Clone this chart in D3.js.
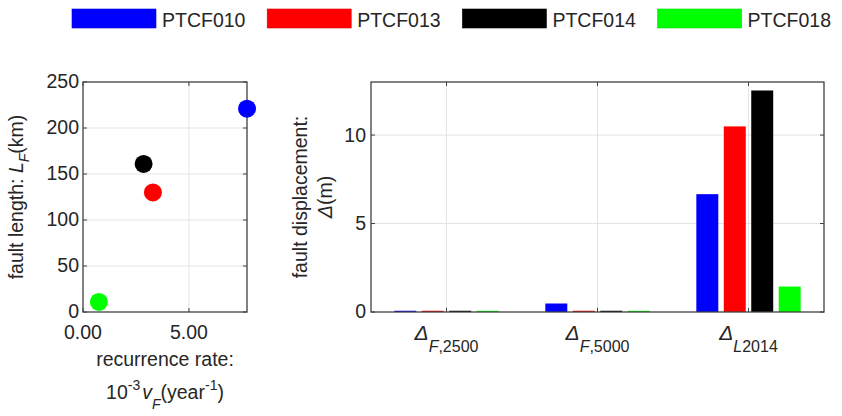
<!DOCTYPE html>
<html>
<head>
<meta charset="utf-8">
<script src="https://cdn.jsdelivr.net/npm/d3@7/dist/d3.min.js"></script>
<style>
  html, body { margin: 0; padding: 0; background: #fff; }
  svg { display: block; font-family: "Liberation Sans", Arial, Helvetica, sans-serif; }
</style>
</head>
<body>
<svg id="chart" width="842" height="416"></svg>
<script>
// Fault series
const seriesNames = ["PTCF010", "PTCF013", "PTCF014", "PTCF018"];
const seriesColors = ["#0000ff", "#ff0000", "#000000", "#00ff00"];

// Left panel: recurrence rate (10^-3 /year) vs fault length (km)
const recurrenceRate = [7.74, 3.30, 2.86, 0.75];
const faultLength = [221, 130, 161, 11];
const lengthTicks = [0, 50, 100, 150, 200, 250];
const rateTicks = [0, 5];

// Right panel: fault displacement (m) per scenario
const scenarioSubs = ["F,2500", "F,5000", "L2014"];
const dispPTCF010 = [0.07, 0.48, 6.66];
const dispPTCF013 = [0.07, 0.07, 10.49];
const dispPTCF014 = [0.07, 0.07, 12.52];
const dispPTCF018 = [0.07, 0.07, 1.44];
const dispTicks = [0, 5, 10];

const displacement = [dispPTCF010, dispPTCF013, dispPTCF014, dispPTCF018];

const TXT = "#262626";
const AXC = "#404040";
const GRID = "#e3e3e3";
const FS = 19.5;
const svg = d3.select("#chart");

// ---------- Legend ----------
const legend = svg.append("g");
seriesNames.forEach((name, i) => {
  const x0 = 72 + i * 195.2;
  legend.append("rect").attr("x", x0).attr("y", 9).attr("width", 84).attr("height", 19)
    .attr("fill", seriesColors[i]).attr("stroke", d3.color(seriesColors[i]).darker(0.4)).attr("stroke-width", 0.6);
  legend.append("text").attr("x", x0 + 90).attr("y", 26.7).attr("font-size", FS)
    .attr("fill", TXT).text(name);
});

// Helper: inward ticks on all four sides plus the box
function drawFrame(g, x, y, xt, yt) {
  const [xa, xb] = x.range();
  const [ya, yb] = y.range();
  const L = 4;
  const t = g.append("g").attr("stroke", AXC).attr("stroke-width", 1);
  xt.forEach(v => {
    const px = x(v);
    t.append("line").attr("x1", px).attr("x2", px).attr("y1", ya).attr("y2", ya - L);
    t.append("line").attr("x1", px).attr("x2", px).attr("y1", yb).attr("y2", yb + L);
  });
  yt.forEach(v => {
    const py = y(v);
    t.append("line").attr("x1", xa).attr("x2", xa + L).attr("y1", py).attr("y2", py);
    t.append("line").attr("x1", xb).attr("x2", xb - L).attr("y1", py).attr("y2", py);
  });
  g.append("rect").attr("x", xa).attr("y", yb).attr("width", xb - xa).attr("height", ya - yb)
    .attr("fill", "none").attr("stroke", AXC).attr("stroke-width", 1.3);
}

// ---------- Left panel: scatter ----------
const xL = d3.scaleLinear().domain([0, d3.max(recurrenceRate)]).range([83, 247]);
const yL = d3.scaleLinear().domain([0, d3.max(lengthTicks)]).range([312, 82]);
const gL = svg.append("g");

gL.append("g").selectAll("line.gx").data(rateTicks.filter(v => v > 0)).join("line")
  .attr("x1", d => xL(d)).attr("x2", d => xL(d)).attr("y1", yL.range()[0]).attr("y2", yL.range()[1])
  .attr("stroke", GRID).attr("stroke-width", 1);
gL.append("g").selectAll("line.gy").data(lengthTicks.filter(v => v > 0 && v < 250)).join("line")
  .attr("x1", xL.range()[0]).attr("x2", xL.range()[1]).attr("y1", d => yL(d)).attr("y2", d => yL(d))
  .attr("stroke", GRID).attr("stroke-width", 1);

drawFrame(gL, xL, yL, rateTicks, lengthTicks);

gL.append("g").selectAll("circle").data(recurrenceRate.map((r, i) => ({ r, L: faultLength[i], c: seriesColors[i] })))
  .join("circle")
  .attr("cx", d => xL(d.r)).attr("cy", d => yL(d.L)).attr("r", 9).attr("fill", d => d.c);

gL.append("g").selectAll("text").data(lengthTicks).join("text")
  .attr("x", 79).attr("y", d => yL(d)).attr("dy", "0.33em").attr("text-anchor", "end")
  .attr("font-size", FS).attr("fill", TXT).text(d => d);
gL.append("g").selectAll("text").data(rateTicks).join("text")
  .attr("x", d => xL(d)).attr("y", 339).attr("text-anchor", "middle")
  .attr("font-size", FS).attr("fill", TXT).text(d => d3.format(".2f")(d));

// y label: fault length: L_F(km)
const yl = gL.append("text").attr("transform", "translate(23,197) rotate(-90)")
  .attr("text-anchor", "middle").attr("font-size", FS).attr("fill", TXT);
yl.append("tspan").text("fault length: ");
yl.append("tspan").attr("font-style", "italic").text("L");
yl.append("tspan").attr("font-style", "italic").attr("font-size", 14).attr("dy", 6).text("F");
yl.append("tspan").attr("dy", -6).text("(km)");

// x label, two lines
gL.append("text").attr("x", 165).attr("y", 366).attr("text-anchor", "middle")
  .attr("font-size", FS).attr("fill", TXT).text("recurrence rate:");
const xl2 = gL.append("text").attr("x", 165).attr("y", 399).attr("text-anchor", "middle")
  .attr("font-size", FS).attr("fill", TXT);
xl2.append("tspan").text("10");
xl2.append("tspan").attr("font-size", 14).attr("dy", -9).text("-3");
xl2.append("tspan").attr("font-style", "italic").attr("dy", 9).attr("dx", 2).text("v");
xl2.append("tspan").attr("font-style", "italic").attr("font-size", 14).attr("dy", 10).text("F");
xl2.append("tspan").attr("dy", -10).text("(year");
xl2.append("tspan").attr("font-size", 14).attr("dy", -9).text("-1");
xl2.append("tspan").attr("dy", 9).text(")");

// ---------- Right panel: grouped bars ----------
const xR = d3.scaleLinear().domain([0.5, 3.5]).range([371, 824]);
const yR = d3.scaleLinear().domain([0, 13]).range([312, 82]);
const gR = svg.append("g");
const groupIdx = scenarioSubs.map((_, i) => i + 1);

gR.append("g").selectAll("line").data(groupIdx).join("line")
  .attr("x1", d => xR(d)).attr("x2", d => xR(d)).attr("y1", yR.range()[0]).attr("y2", yR.range()[1])
  .attr("stroke", GRID).attr("stroke-width", 1);
gR.append("g").selectAll("line").data(dispTicks.filter(v => v > 0)).join("line")
  .attr("x1", xR.range()[0]).attr("x2", xR.range()[1]).attr("y1", d => yR(d)).attr("y2", d => yR(d))
  .attr("stroke", GRID).attr("stroke-width", 1);

// group width follows the usual grouped-bar rule: min(0.8, n/(n+1.5))
const nS = seriesNames.length;
const groupW = Math.min(0.8, nS / (nS + 1.5));
const inner = d3.scaleBand().domain(d3.range(nS))
  .range([-groupW / 2, groupW / 2]).paddingInner(0.2).paddingOuter(0.1);
const unit = xR(1) - xR(0);

const barData = [];
displacement.forEach((vals, s) => vals.forEach((v, g) => barData.push({ s, g: g + 1, v })));
gR.append("g").selectAll("rect").data(barData).join("rect")
  .attr("x", d => xR(d.g + inner(d.s)))
  .attr("width", inner.bandwidth() * unit)
  .attr("y", d => yR(d.v))
  .attr("height", d => yR(0) - yR(d.v))
  .attr("fill", d => seriesColors[d.s]);

drawFrame(gR, xR, yR, groupIdx, dispTicks);

gR.append("g").selectAll("text").data(dispTicks).join("text")
  .attr("x", 366).attr("y", d => yR(d)).attr("dy", "0.33em").attr("text-anchor", "end")
  .attr("font-size", FS).attr("fill", TXT).text(d => d);

// category labels: Δ with subscript
groupIdx.forEach((g, i) => {
  const sub = scenarioSubs[i];
  const t = gR.append("text").attr("x", xR(g)).attr("y", 340).attr("text-anchor", "middle")
    .attr("font-size", 21).attr("fill", TXT);
  t.append("tspan").attr("font-style", "italic").text("Δ");
  t.append("tspan").attr("font-style", "italic").attr("font-size", 16).attr("dy", 12).text(sub[0]);
  t.append("tspan").attr("font-size", 16).text(sub.slice(1));
});

// y label, two lines
const yr = gR.append("text").attr("transform", "translate(300,197) rotate(-90)")
  .attr("text-anchor", "middle").attr("font-size", FS).attr("fill", TXT);
yr.append("tspan").attr("x", 0).attr("dy", 7).text("fault displacement:");
const yr2 = yr.append("tspan").attr("x", 0).attr("dy", 25);
yr2.append("tspan").attr("font-style", "italic").text("Δ");
yr.append("tspan").text("(m)");
</script>
</body>
</html>
